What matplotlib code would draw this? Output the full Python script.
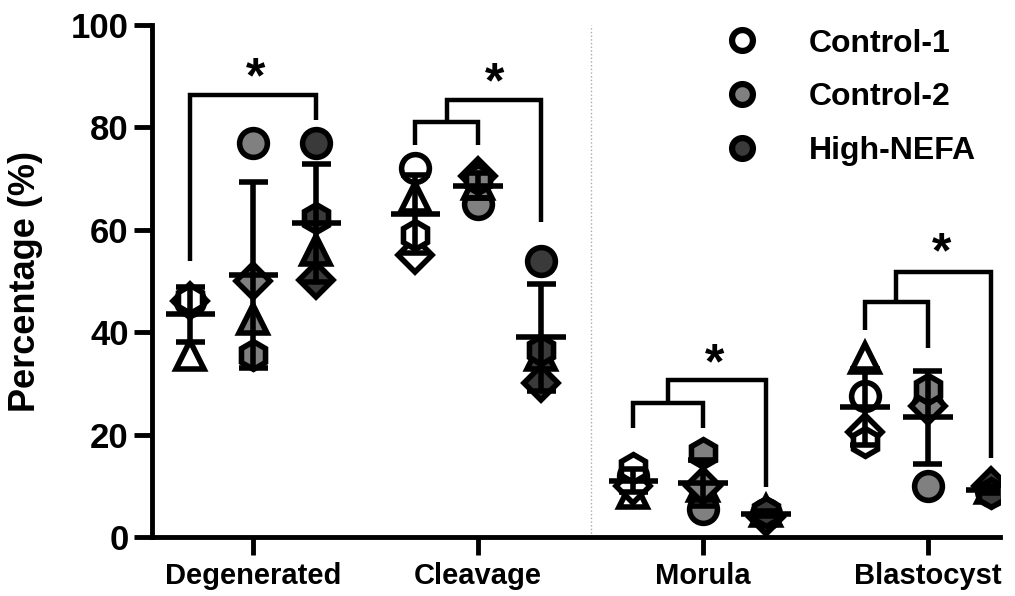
import numpy as np
import matplotlib
matplotlib.use('Agg')
from matplotlib import pyplot as plt
from matplotlib.lines import Line2D

plt.rcParams['font.family'] = ['Liberation Sans', 'DejaVu Sans']
plt.rcParams['font.weight'] = 'bold'
plt.rcParams['axes.labelweight'] = 'bold'

categories = ['Degenerated', 'Cleavage', 'Morula', 'Blastocyst']
groups = ['Control-1', 'Control-2', 'High-NEFA']
group_colors = ['#ffffff', '#808080', '#3a3a3a']
replicate_markers = ['o', '^', 'D', 'h']

# values per category -> per group -> replicates (circle, triangle, diamond, hexagon)
degenerated = [[46, 35.5, 46, 46.5], [77, 42.5, 50, 35.5], [77, 56, 50.2, 62.3]]
cleavage = [[72, 66.5, 55, 59], [65, 69, 70.5, 70], [54, 35.5, 30, 36.5]]
morula = [[12, 8.5, 10, 13.5], [5.5, 10, 10, 16.5], [4.5, 5, 4, 4.8]]
blastocyst = [[27.5, 35, 20.5, 18.5], [10, 29, 25.5, 29], [9, 9.5, 10, 8.5]]
all_data = [degenerated, cleavage, morula, blastocyst]

group_offsets = [-0.28, 0.0, 0.28]

fig = plt.figure(figsize=(10.15, 5.96), dpi=100)
ax = fig.add_axes([0.150, 0.099, 0.835, 0.859])

for ci, cat in enumerate(all_data):
    for gi, vals in enumerate(cat):
        x = ci + group_offsets[gi]
        if ci == 2 and gi == 0:
            x -= 0.03
        for ri, v in enumerate(vals):
            ax.plot(x, v, marker=replicate_markers[ri], ms=20 if ri != 2 else 17,
                    mfc=group_colors[gi], mec='black', mew=4, ls='none', zorder=3)
        m = np.mean(vals)
        sd = np.std(vals, ddof=1)
        ax.plot([x - 0.11, x + 0.11], [m, m], color='black', lw=4, zorder=4,
                solid_capstyle='butt')
        ax.plot([x, x], [m - sd, m + sd], color='black', lw=4, zorder=4,
                solid_capstyle='butt')
        for yy in (m - sd, m + sd):
            ax.plot([x - 0.065, x + 0.065], [yy, yy], color='black', lw=4, zorder=4,
                    solid_capstyle='butt')

# significance brackets
bk = dict(color='black', lw=3.2, solid_capstyle='butt', solid_joinstyle='miter', zorder=2)
# Degenerated: Control-1 vs High-NEFA
ax.plot([0 - 0.28, 0 - 0.28, 0 + 0.28, 0 + 0.28], [54, 86.3, 86.3, 81.4], **bk)
ax.text(0.01, 89.3, '*', ha='center', va='center', fontsize=36)
# Cleavage
ax.plot([1 - 0.28, 1 - 0.28, 1, 1], [76.5, 81, 81, 76.5], **bk)
ax.plot([1 - 0.14, 1 - 0.14, 1 + 0.28, 1 + 0.28], [81, 85.3, 85.3, 61.5], **bk)
ax.text(1.075, 88.5, '*', ha='center', va='center', fontsize=36)
# Morula
ax.plot([2 - 0.31, 2 - 0.31, 2, 2], [21.3, 26.2, 26.2, 21.3], **bk)
ax.plot([2 - 0.155, 2 - 0.155, 2 + 0.28, 2 + 0.28], [26.2, 30.7, 30.7, 9.8], **bk)
ax.text(2.05, 33.5, '*', ha='center', va='center', fontsize=36)
# Blastocyst
ax.plot([3 - 0.28, 3 - 0.28, 3, 3], [40.4, 45.9, 45.9, 37], **bk)
ax.plot([3 - 0.14, 3 - 0.14, 3 + 0.28, 3 + 0.28], [45.9, 51.8, 51.8, 15.4], **bk)
ax.text(3.06, 55.2, '*', ha='center', va='center', fontsize=36)

ax.axvline(1.5, color='#aaaaaa', lw=1, ls=':', zorder=1)

ax.set_xlim(-0.45, 3.32)
ax.set_ylim(0, 100)
ax.set_yticks([0, 20, 40, 60, 80, 100])
ax.set_xticks(range(len(categories)))
ax.set_xticklabels(categories, fontsize=21)
ax.set_ylabel('Percentage (%)', fontsize=26, labelpad=20)
ax.tick_params(axis='both', width=3.5, length=13)
ax.tick_params(axis='y', labelsize=25, pad=4)
ax.tick_params(axis='x', pad=5)
for sp in ['top', 'right']:
    ax.spines[sp].set_visible(False)
for sp in ['left', 'bottom']:
    ax.spines[sp].set_linewidth(3.5)

handles = [Line2D([], [], marker='o', ls='none', ms=15, mfc=c, mec='black', mew=4.5)
           for c in group_colors]
ax.legend(handles, groups, loc='upper left', bbox_to_anchor=(0.643, 1.018), frameon=False,
          fontsize=23, handletextpad=1.1, labelspacing=0.74, borderaxespad=0)

fig.savefig('out.png', dpi=100)
